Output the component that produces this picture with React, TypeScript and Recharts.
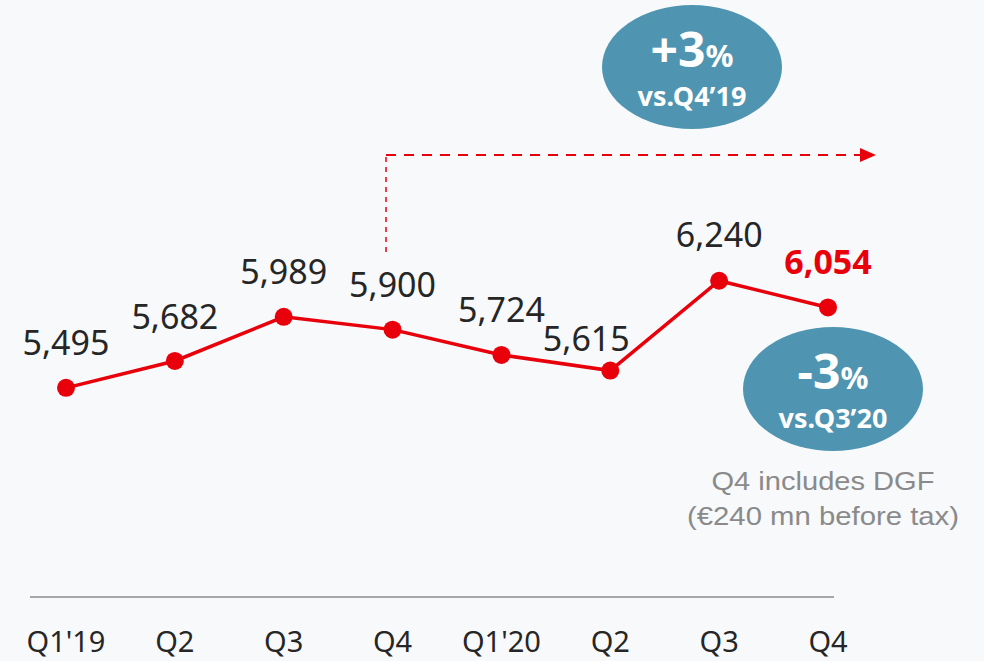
import { LineChart, Line, XAxis, YAxis, LabelList } from 'recharts';

const quarters = ["Q1'19", 'Q2', 'Q3', 'Q4', "Q1'20", 'Q2', 'Q3', 'Q4'];
const revenue = [5495, 5682, 5989, 5900, 5724, 5615, 6240, 6054];
// label nudges (dx, dy) so they don't sit on the line
const labelDx = [0, 0, 0, 0, 0, -24, 0, 0];
const labelDy = [-33, -32, -33, -33, -33, -20, -34, -33];

const RED = '#e8000b';
const BUBBLE = '#4f95b2';
const FONT = "'Noto Sans', 'Open Sans', sans-serif";
const NOTE_FONT = "'Liberation Sans', Arial, sans-serif";

const data = quarters.map((q, i) => ({ id: i, label: q, value: revenue[i] }));

function ValueLabel(props: any) {
  const { x, y, value, index } = props;
  const last = index === revenue.length - 1;
  return (
    <text
      x={x + labelDx[index]}
      y={y + labelDy[index]}
      textAnchor="middle"
      fontFamily={FONT}
      fontSize={34}
      fontWeight={last ? 700 : 400}
      fill={last ? RED : '#262626'}
    >
      {Number(value).toLocaleString('en-US')}
    </text>
  );
}

function QuarterTick(props: any) {
  const { x, y, payload } = props;
  return (
    <text x={x} y={y} dy={47} textAnchor="middle" fontFamily={FONT} fontSize={29} fill="#262626">
      {quarters[payload.value]}
    </text>
  );
}

function Bubble({ cx, cy, big, small }: { cx: number; cy: number; big: string; small: string }) {
  return (
    <g>
      <ellipse cx={cx} cy={cy} rx={90} ry={62} fill={BUBBLE} />
      <text x={cx} y={cy} textAnchor="middle" fontFamily={FONT} fontWeight={700} fill="#fff">
        <tspan fontSize={48}>{big}</tspan>
        <tspan fontSize={31}>%</tspan>
      </text>
      <text x={cx} y={cy + 39} textAnchor="middle" fontFamily={FONT} fontWeight={700} fontSize={27} fill="#fff">
        {small}
      </text>
    </g>
  );
}

export default function App() {
  return (
    <div style={{ position: 'absolute', left: 0, top: 0, width: 984, height: 661, background: '#f8f9fb' }}>
      <LineChart width={984} height={661} data={data} margin={{ top: 229, right: 150, bottom: 0, left: 30 }}>
        <defs>
          <marker
            id="arrowHead"
            markerWidth="16"
            markerHeight="16"
            refX="1"
            refY="8"
            orient="auto"
            markerUnits="userSpaceOnUse"
          >
            <path d="M0,1 L16,8 L0,15 z" fill={RED} />
          </marker>
        </defs>
        <XAxis
          dataKey="id"
          type="category"
          height={64}
          padding={{ left: 36, right: 6 }}
          tickLine={false}
          axisLine={{ stroke: '#555', strokeWidth: 1 }}
          tick={<QuarterTick />}
          interval={0}
        />
        <YAxis hide domain={[4040, 6600]} />
        <Line
          type="linear"
          dataKey="value"
          stroke={RED}
          strokeWidth={3.5}
          dot={{ r: 9, fill: RED, stroke: 'none' }}
          activeDot={false}
          isAnimationActive={false}
        >
          <LabelList dataKey="value" content={<ValueLabel />} />
        </Line>
        <path d="M386,252 L386,155" stroke={RED} strokeWidth={1.5} strokeDasharray="5 5" fill="none" />
        <path
          d="M386,155 L861,155"
          stroke={RED}
          strokeWidth={2}
          strokeDasharray="10 8"
          fill="none"
          markerEnd="url(#arrowHead)"
        />
        <Bubble cx={692} cy={67} big="+3" small="vs.Q4’19" />
        <Bubble cx={833} cy={389} big="-3" small="vs.Q3’20" />
        <text
          x={823}
          y={490}
          textAnchor="middle"
          fontFamily={NOTE_FONT}
          fontSize={25}
          fill="#8a8a8a"
          textLength={223}
          lengthAdjust="spacingAndGlyphs"
        >
          Q4 includes DGF
        </text>
        <text
          x={823}
          y={525}
          textAnchor="middle"
          fontFamily={NOTE_FONT}
          fontSize={25}
          fill="#8a8a8a"
          textLength={272}
          lengthAdjust="spacingAndGlyphs"
        >
          (€240 mn before tax)
        </text>
      </LineChart>
    </div>
  );
}
